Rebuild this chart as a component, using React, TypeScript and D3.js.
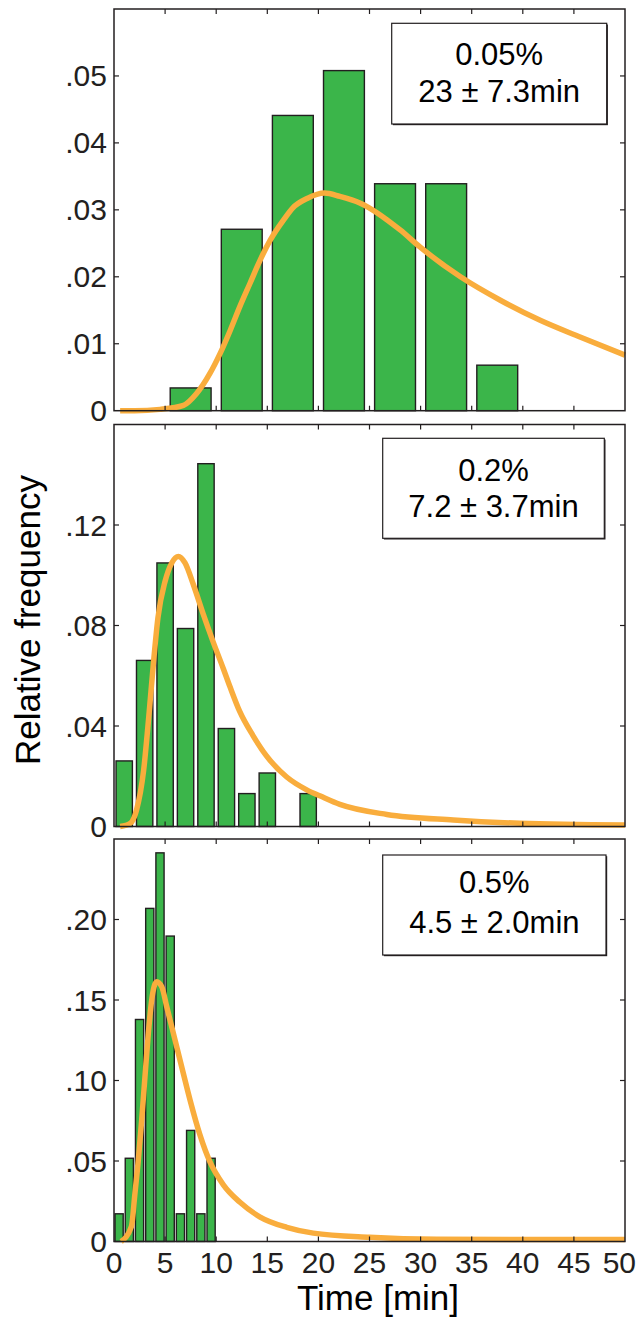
import React from 'react';
import * as d3 from 'd3';

// x axis (shared)
const timeTicks = [0, 5, 10, 15, 20, 25, 30, 35, 40, 45, 50];

// panel 1: 0.05%
const binsA = [7.5, 12.5, 17.5, 22.5, 27.5, 32.5, 37.5];
const freqA = [0.0034, 0.0271, 0.0441, 0.0508, 0.0339, 0.0339, 0.0068];
const fitTimeA = [0.6, 2, 4.5, 6.8, 8.1, 9.4, 10.4, 11.4, 12.3, 13.3, 14.3, 15.3, 16.6, 17.5, 18.9, 20.6, 22.1, 24.1, 28, 29.9, 33.9, 37.8, 41.7, 45.6, 50];
const fitValA = [0, 0, 0.0002, 0.0008, 0.0026, 0.0056, 0.0086, 0.0121, 0.0155, 0.019, 0.0225, 0.0255, 0.0285, 0.0303, 0.0317, 0.0325, 0.032, 0.031, 0.027, 0.0245, 0.02, 0.0165, 0.0135, 0.011, 0.0083];
const yTicksA = [0, 0.01, 0.02, 0.03, 0.04, 0.05];
const yLabelsA = ['0', '.01', '.02', '.03', '.04', '.05'];

// panel 2: 0.2%
const binsB = [1, 3, 5, 7, 9, 11, 13, 15, 19];
const freqB = [0.0261, 0.0661, 0.1049, 0.0788, 0.1444, 0.039, 0.0131, 0.0213, 0.0131];
const fitTimeB = [0.6, 1.6, 2.2, 2.9, 3.4, 3.85, 4.3, 5, 5.65, 6.3, 6.95, 7.76, 8.74, 9.7, 10.7, 11.35, 12.3, 13.6, 14.9, 16.9, 18.9, 20.2, 22.1, 26.7, 33.2, 39.7, 50];
const fitValB = [0, 0.0013, 0.0065, 0.0224, 0.0435, 0.0646, 0.0831, 0.0976, 0.1049, 0.1075, 0.1049, 0.0963, 0.0844, 0.0735, 0.0628, 0.0556, 0.0458, 0.0362, 0.0282, 0.0197, 0.0145, 0.0121, 0.0088, 0.0048, 0.0026, 0.0013, 0.0006];
const yTicksB = [0, 0.04, 0.08, 0.12];
const yLabelsB = ['0', '.04', '.08', '.12'];

// panel 3: 0.5%
const binsC = [0.5, 1.5, 2.5, 3.5, 4.5, 5.5, 6.5, 7.5, 8.5, 9.5];
const freqC = [0.0172, 0.0517, 0.1379, 0.2069, 0.2414, 0.1897, 0.0172, 0.069, 0.0172, 0.0517];
const fitTimeC = [0.7, 1.7, 2.05, 2.38, 2.71, 3.03, 3.36, 3.69, 4.18, 4.67, 5.16, 5.97, 6.78, 7.44, 8.41, 9.39, 10.7, 12.3, 14.3, 16.9, 19.5, 25, 31.6, 50];
const fitValC = [0, 0.0092, 0.03, 0.0506, 0.0755, 0.1024, 0.1293, 0.15, 0.1614, 0.1583, 0.1458, 0.1252, 0.1045, 0.0879, 0.0662, 0.0494, 0.0352, 0.0245, 0.0152, 0.0088, 0.0052, 0.0026, 0.0014, 0.0012];
const yTicksC = [0, 0.05, 0.1, 0.15, 0.2];
const yLabelsC = ['0', '.05', '.10', '.15', '.20'];

const legendTitles = ['0.05%', '0.2%', '0.5%'];
const legendStats = ['23 \u00b1 7.3min', '7.2 \u00b1 3.7min', '4.5 \u00b1 2.0min'];

const INK = '#231f20';
const GREEN = '#3bb54a';
const ORANGE = '#f9ad3d';
const FONT = '"Liberation Sans", Arial, Helvetica, sans-serif';

const panels = [
  { top: 9, bottom: 410.7, yMax: 0.06, bins: binsA, freq: freqA, binW: 5, ft: fitTimeA, fv: fitValA, ticks: yTicksA, labels: yLabelsA, box: [391.7, 23.3, 215, 100.7], base: [65, 101.7] },
  { top: 424.5, bottom: 826.5, yMax: 0.16, bins: binsB, freq: freqB, binW: 2, ft: fitTimeB, fv: fitValB, ticks: yTicksB, labels: yLabelsB, box: [382.7, 438.3, 221.6, 100], base: [480.7, 516.7] },
  { top: 839, bottom: 1241.5, yMax: 0.25, bins: binsC, freq: freqC, binW: 1, ft: fitTimeC, fv: fitValC, ticks: yTicksC, labels: yLabelsC, box: [382.7, 855, 223.3, 100], base: [893.3, 932.7] },
];

const left = 114;
const right = 625;
const tickLen = 5;

export default function App() {
  const x = d3.scaleLinear().domain([0, 50]).range([left, right]);

  return (
    <div style={{ position: 'absolute', left: 0, top: 0 }}>
      <svg width={639} height={1323} style={{ display: 'block', fontFamily: FONT }}>
        <rect width={639} height={1323} fill="#fff" />
        {panels.map((p, i) => {
          const y = d3.scaleLinear().domain([0, p.yMax]).range([p.bottom, p.top]);
          const pts = p.ft.map((t, k) => [t, p.fv[k]] as [number, number]);
          const line = d3.line<[number, number]>()
            .x(d => x(d[0]))
            .y(d => y(d[1]))
            .curve(d3.curveMonotoneX);
          const bw = p.binW * 0.8;
          const [bx, by, bwid, bh] = p.box;
          const cx = bx + bwid / 2;
          return (
            <g key={i}>
              {p.bins.map((c, k) => (
                <rect key={k} x={x(c - bw / 2)} y={y(p.freq[k])}
                  width={x(c + bw / 2) - x(c - bw / 2)} height={y(0) - y(p.freq[k])}
                  fill={GREEN} stroke={INK} strokeWidth={1.4} />
              ))}
              <path d={line(pts) || ''} fill="none" stroke={ORANGE} strokeWidth={5.5}
                strokeLinejoin="round" strokeLinecap="butt" />
              <rect x={left} y={p.top} width={right - left} height={p.bottom - p.top}
                fill="none" stroke={INK} strokeWidth={1.5} />
              {timeTicks.slice(1, -1).map(t => (
                <g key={t}>
                  <line x1={x(t)} x2={x(t)} y1={p.bottom} y2={p.bottom - tickLen} stroke={INK} strokeWidth={1.2} />
                  <line x1={x(t)} x2={x(t)} y1={p.top} y2={p.top + tickLen} stroke={INK} strokeWidth={1.2} />
                </g>
              ))}
              {p.ticks.map((v, k) => (
                <g key={k}>
                  {k > 0 && <line x1={left} x2={left + tickLen} y1={y(v)} y2={y(v)} stroke={INK} strokeWidth={1.2} />}
                  {k > 0 && <line x1={right} x2={right - tickLen} y1={y(v)} y2={y(v)} stroke={INK} strokeWidth={1.2} />}
                  <text x={left - 7} y={y(v) + 10.5} textAnchor="end" fontSize={30} fill={INK}>{p.labels[k]}</text>
                </g>
              ))}
              <rect x={bx + 1.2} y={by + 1.2} width={bwid} height={bh} fill={INK} />
              <rect x={bx} y={by} width={bwid} height={bh} fill="#fff" stroke={INK} strokeWidth={1.2} />
              <text x={cx} y={p.base[0]} textAnchor="middle" fontSize={31} fill="#000">{legendTitles[i]}</text>
              <text x={cx} y={p.base[1]} textAnchor="middle" fontSize={31} fill="#000">{legendStats[i]}</text>
            </g>
          );
        })}
        {timeTicks.map((t, k) => {
          const last = k === timeTicks.length - 1;
          return (
            <text key={t} x={last ? 636 : x(t)} y={1273} textAnchor={last ? 'end' : 'middle'}
              fontSize={30} fill={INK}>{t}</text>
          );
        })}
        <text x={378} y={1310} textAnchor="middle" fontSize={35} fill="#000">Time [min]</text>
        <text transform="translate(40,620) rotate(-90)" textAnchor="middle" fontSize={35} fill="#000">Relative frequency</text>
      </svg>
    </div>
  );
}
